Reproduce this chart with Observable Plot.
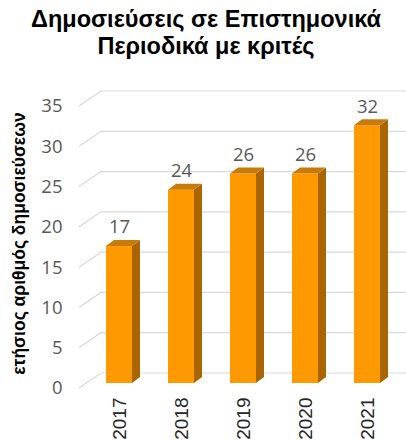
<!DOCTYPE html>
<html><head><meta charset="utf-8">
<script src="https://cdn.jsdelivr.net/npm/d3@7"></script>
<script src="https://cdn.jsdelivr.net/npm/@observablehq/plot@0.6"></script>
<style>
body{margin:0;background:#fff;}
#title{font-family:"Liberation Sans",Arial,sans-serif;font-weight:bold;font-size:23.5px;text-align:center;line-height:27px;height:62px;padding-top:6px;box-sizing:border-box;color:#000;width:412px;}
#chart svg{display:block;}
</style></head><body>
<div id="title">Δημοσιεύσεις σε Επιστημονικά<br>Περιοδικά με κριτές</div>
<div id="chart"></div>
<script>
const years = ["2017", "2018", "2019", "2020", "2021"];
const values = [17, 24, 26, 26, 32];
const yTicks = [0, 5, 10, 15, 20, 25, 30, 35];
const yTitle = "ετήσιος αριθμός δημοσιεύσεων";

const data = years.map((year, i) => ({year, value: values[i]}));
const depthX = 8, depthY = -6;
const frontColor = "#FF9900", sideColor = "#A86500", topColor = "#C97B0A";

const plot = Plot.plot({
  width: 406,
  height: 379,
  marginLeft: 80,
  marginRight: 0,
  marginTop: 39,
  marginBottom: 58,
  style: {fontFamily: "'Liberation Sans', Arial, sans-serif", background: "white", overflow: "visible"},
  x: {domain: years, paddingInner: 0.586, paddingOuter: 0.39, align: 0.5, label: null},
  y: {domain: [0, 35], label: null},
  marks: [
    Plot.ruleY(yTicks, {
      stroke: "#d9d9d9",
      render: (index, scales, vals, dims) => {
        const g = d3.create("svg:g").attr("fill", "none").attr("stroke", "#d9d9d9").attr("stroke-width", 1.2);
        const x0 = dims.marginLeft - 1, xw = dims.marginLeft + 21, x1 = dims.width;
        for (const i of index) {
          const y = scales.y(yTicks[i]);
          g.append("path").attr("d", `M${x0},${y + 5}L${xw},${y - 10}H${x1}`);
        }
        return g.node();
      }
    }),
    Plot.axisY(yTicks, {tickSize: 0, tickPadding: 18, dy: 5, fontSize: 18.5, fill: "#595959", fontFamily: "'Open Sans', sans-serif", label: null}),
    Plot.axisX({tickSize: 0, tickPadding: 14, tickRotate: -90, fontSize: 19, fill: "#262626", label: null}),
    Plot.barY(data, {
      x: "year", y: "value", fill: frontColor,
      render: (index, scales, vals, dims, ctx, next) => {
        const g = next(index, scales, vals, dims, ctx);
        const sel = d3.select(g);
        const rects = Array.from(g.querySelectorAll("rect"));
        for (const r of rects) {
          const x = +r.getAttribute("x"), y = +r.getAttribute("y");
          const w = +r.getAttribute("width"), h = +r.getAttribute("height");
          const yb = y + h;
          sel.append("path").attr("fill", sideColor)
            .attr("d", `M${x + w},${yb}L${x + w + depthX},${yb + depthY}L${x + w + depthX},${y + depthY}L${x + w},${y}Z`);
          sel.append("path").attr("fill", topColor)
            .attr("d", `M${x},${y}L${x + depthX},${y + depthY}L${x + w + depthX},${y + depthY}L${x + w},${y}Z`);
        }
        return g;
      }
    }),
    Plot.text(data, {x: "year", y: "value", text: d => String(d.value), dy: -19, fontSize: 18.5, fill: "#595959", fontFamily: "'Open Sans', sans-serif"}),
    Plot.text([yTitle], {frameAnchor: "left", dx: -61, dy: 1, textAnchor: "middle", rotate: -90, fontWeight: "bold", fontSize: 17.5, fill: "#000"})
  ]
});
document.getElementById("chart").append(plot);
</script>
</body></html>
